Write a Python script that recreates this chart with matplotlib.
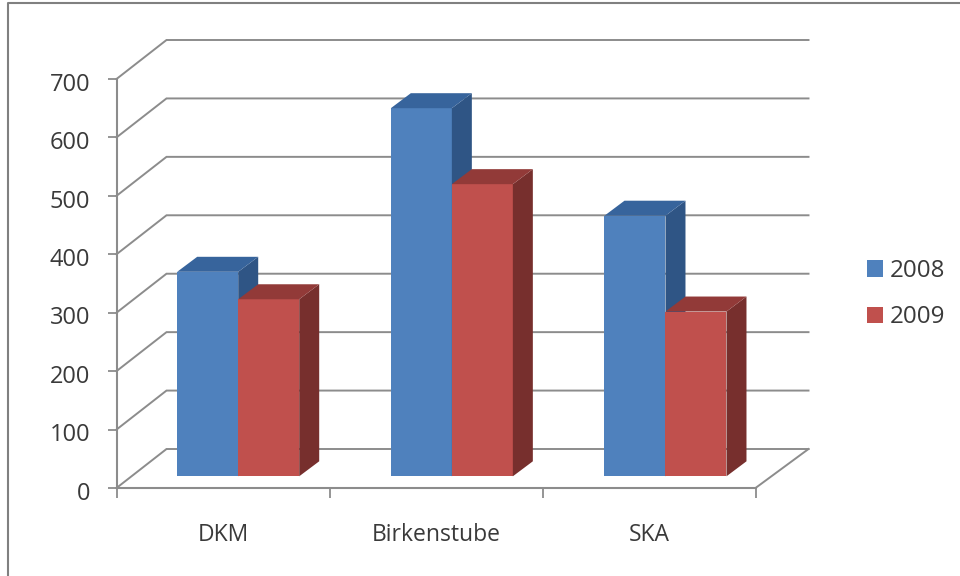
import numpy as np
import matplotlib
matplotlib.use("Agg")
import matplotlib.pyplot as plt
from matplotlib.lines import Line2D
from matplotlib.patches import Polygon
from matplotlib.transforms import ScaledTranslation

plt.rcParams['font.family'] = ['Open Sans', 'DejaVu Sans']

# datos
categorias = ["DKM", "Birkenstube", "SKA"]
serie_2008 = [350, 630, 446]
serie_2009 = [303, 500, 282]
ticks_y = [0, 100, 200, 300, 400, 500, 600, 700]

W, H = 960, 576
fig = plt.figure(figsize=(W / 100, H / 100), dpi=100)
ax = fig.add_axes([116.5 / W, 1 - 488 / H, 639 / W, 409 / H])
ax.set_xlim(0, 3)
ax.set_ylim(0, 700)

# pixeles a unidades de datos
px_x = 3 / 639
px_y = 700 / 409

GRIS = "#8c8c8c"
TEXTO = "#3a3a3a"

# profundidad de las paredes y de las barras
prof_x, prof_y = 50 * px_x, 39 * px_y
fin_x = 3 + 53 * px_x
barra_x, barra_y = 20 * px_x, 15 * px_y
suelo = 11.7 * px_y
ancho = 61 * px_x
inicio = 0.285
paso = 1.003

# pared lateral y de fondo
for v in ticks_y:
    ax.plot([0, prof_x, fin_x], [v, v + prof_y, v + prof_y], color=GRIS, lw=1.4,
            clip_on=False, zorder=1, solid_joinstyle="miter")
ax.plot([3, fin_x], [0, prof_y], color=GRIS, lw=1.4, clip_on=False, zorder=1)


def barra(x, valor, frente, lado, tapa, z, etiqueta=None):
    alto = suelo + valor
    ax.bar(x, valor, ancho, bottom=suelo, align="edge", color=frente, zorder=z, label=etiqueta)
    ax.add_patch(Polygon([(x + ancho, suelo), (x + ancho + barra_x, suelo + barra_y),
                          (x + ancho + barra_x, alto + barra_y), (x + ancho, alto)],
                         color=lado, lw=0, zorder=z, clip_on=False))
    ax.add_patch(Polygon([(x, alto), (x + barra_x, alto + barra_y),
                          (x + ancho + barra_x, alto + barra_y), (x + ancho, alto)],
                         color=tapa, lw=0, zorder=z, clip_on=False))


for i in range(len(categorias)):
    x = inicio + i * paso
    barra(x, serie_2008[i], "#4f81bd", "#2f5585", "#37649c", 3, "2008" if i == 0 else None)
    barra(x + ancho, serie_2009[i], "#c0504d", "#772f2d", "#923a38", 4, "2009" if i == 0 else None)

# ejes
for lado in ["top", "right"]:
    ax.spines[lado].set_visible(False)
for lado in ["left", "bottom"]:
    ax.spines[lado].set_color(GRIS)
    ax.spines[lado].set_linewidth(1.5)
ax.patch.set_alpha(0)
ax.set_yticks(ticks_y)
ax.set_xticks(np.arange(4))
ax.set_xticklabels([])
ax.set_xticks(np.arange(3) + 0.5, categorias, minor=True)
ax.tick_params(axis="x", which="major", length=7, width=1.3, color=GRIS)
ax.tick_params(axis="x", which="minor", length=0, pad=25.5, labelsize=16.5, labelcolor=TEXTO)
ax.tick_params(axis="y", length=6.5, width=1.3, color=GRIS, pad=12.5, labelsize=17, labelcolor=TEXTO)

# los numeros del eje quedan un poco mas abajo que la marca
bajar = ScaledTranslation(0, -2 / 72, fig.dpi_scale_trans)
for etiqueta in ax.get_yticklabels():
    etiqueta.set_transform(etiqueta.get_transform() + bajar)

fig.legend(loc="upper left", bbox_to_anchor=(867 / W, 1 - 259 / H), frameon=False,
           fontsize=17.4, handlelength=0.66, handleheight=0.66, handletextpad=0.3,
           labelspacing=0.93, labelcolor=TEXTO, borderpad=0, borderaxespad=0)

# borde exterior del grafico
fig.add_artist(Line2D([7.5 / W, 7.5 / W, 1], [0, 1 - 3 / H, 1 - 3 / H], color="#808080", lw=1.5))

fig.savefig("out.png", dpi=100)
